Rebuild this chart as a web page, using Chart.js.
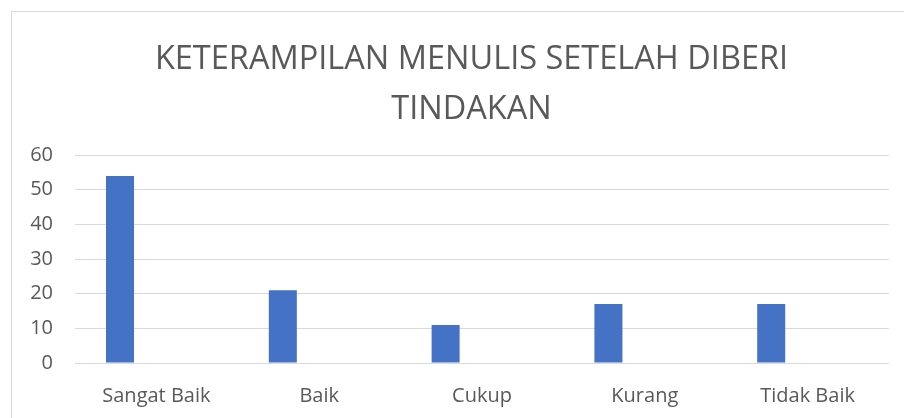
<!DOCTYPE html>
<html>
<head>
<meta charset="utf-8">
<script src="https://cdn.jsdelivr.net/npm/chart.js@4"></script>
<style>
  body { margin: 0; background: #fff; }
  #wrap { position: relative; width: 904px; height: 418px; }
  #frame { position: absolute; left: 11px; top: 11px; width: 900px; height: 420px;
           border-left: 1px solid #d9d9d9; border-top: 1px solid #d9d9d9; pointer-events: none; }
</style>
</head>
<body>
<div id="wrap">
  <canvas id="chart" width="904" height="418"></canvas>
  <div id="frame"></div>
</div>
<script>
const categories = ["Sangat Baik", "Baik", "Cukup", "Kurang", "Tidak Baik"];
const values = [54, 21, 11, 17, 17];
const emptySeries = [null, null, null, null, null];
const titleLines = ["KETERAMPILAN MENULIS SETELAH DIBERI", "TINDAKAN"];

// the original chart is wider than the crop, so its title sits right of centre
const shiftTitle = {
  id: "shiftTitle",
  afterLayout(chart) {
    if (chart.titleBlock) {
      chart.titleBlock.left += 27;
      chart.titleBlock.right += 27;
    }
  }
};

const ctx = document.getElementById("chart").getContext("2d");
new Chart(ctx, {
  type: "bar",
  data: {
    labels: categories,
    datasets: [
      { data: values, backgroundColor: "#4472c4", barPercentage: 0.385, categoryPercentage: 0.894 },
      { data: emptySeries, backgroundColor: "#ed7d31", barPercentage: 0.385, categoryPercentage: 0.894 }
    ]
  },
  plugins: [shiftTitle],
  options: {
    responsive: false,
    animation: false,
    layout: { padding: { left: 0, right: 15, top: 0, bottom: 0 } },
    plugins: {
      legend: { display: false },
      tooltip: { enabled: false },
      title: {
        display: true,
        text: titleLines,
        color: "#595959",
        font: { family: "Open Sans", size: 32.5, weight: "normal", lineHeight: 1.54 },
        padding: { top: 35, bottom: 20 }
      }
    },
    scales: {
      x: {
        grid: { display: false, drawTicks: false },
        border: { display: false },
        ticks: { color: "#595959", font: { family: "Open Sans", size: 20 }, padding: 21 },
        afterFit: (s) => { s.height = 55; }
      },
      y: {
        min: 0, max: 60,
        ticks: { stepSize: 10, color: "#595959", font: { family: "Open Sans", size: 20 }, padding: 22 },
        grid: { color: "#d9d9d9", lineWidth: 1, drawTicks: false },
        border: { display: false },
        afterFit: (s) => { s.width = 75; }
      }
    }
  }
});
</script>
</body>
</html>
